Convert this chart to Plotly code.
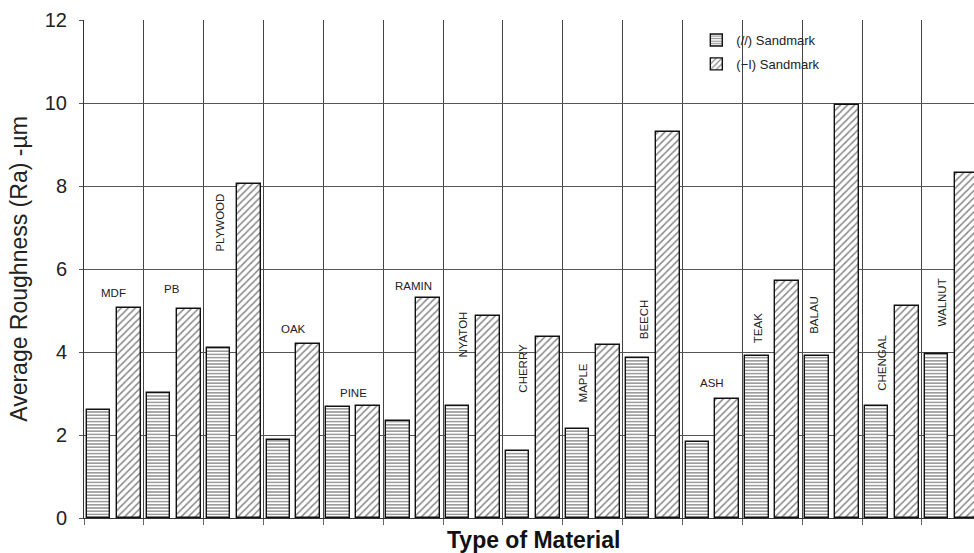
import plotly.graph_objects as go

materials = ["MDF", "PB", "PLYWOOD", "OAK", "PINE", "RAMIN", "NYATOH", "CHERRY",
             "MAPLE", "BEECH", "ASH", "TEAK", "BALAU", "CHENGAL", "WALNUT"]
parallel = [2.61, 3.01, 4.10, 1.87, 2.68, 2.34, 2.71, 1.62, 2.15, 3.86, 1.82, 3.91, 3.90, 2.69, 3.96]
perpendicular = [5.06, 5.04, 8.05, 4.20, 2.71, 5.30, 4.87, 4.36, 4.18, 9.31, 2.86, 5.72, 9.94, 5.11, 8.32]
y_ticks = [0, 2, 4, 6, 8, 10, 12]

# label placement (layout only)
label_y = [5.43, 5.52, 7.11, 4.56, 3.02, 5.60, 4.42, 3.62, 3.26, 4.78, 3.26, 4.58, 4.90, 3.74, 5.19]
label_vertical = [False, False, True, False, False, False, True, True, True, True, False, True, True, True, True]
label_dx = [0, -2, -14, 0, 0, 0, -10, -10, -10, -9, 0, -14, -19, -10, -10]

fig = go.Figure()
fig.add_trace(go.Bar(
    x=materials, y=parallel, name="(//) Sandmark", legendgroup="a",
    width=0.39, offset=-0.45,
    marker=dict(color="white", line=dict(color="#111", width=1.4),
                pattern=dict(shape="-", size=3.2, solidity=0.45, fgcolor="#222", bgcolor="white")),
))
fig.add_trace(go.Bar(
    x=materials, y=perpendicular, name="(−I) Sandmark", legendgroup="b",
    width=0.40, offset=0.05,
    marker=dict(color="white", line=dict(color="#111", width=1.4),
                pattern=dict(shape="/", size=5, solidity=0.3, fgcolor="#111", bgcolor="white")),
))

for m, ly, vert, dx in zip(materials, label_y, label_vertical, label_dx):
    fig.add_annotation(x=m, y=ly, text=m, showarrow=False, textangle=-90 if vert else 0,
                       xshift=dx, font=dict(family="Liberation Sans, Arial", size=11.5, color="#222"))

fig.add_annotation(xref="paper", yref="paper", x=(533 - 84) / 890, y=(518.5 - 541) / 498.5,
                   yanchor="middle", text="<b>Type of Material</b>", showarrow=False,
                   font=dict(family="Liberation Sans, Arial", size=23, color="#111"))

fig.update_layout(
    width=974, height=553,
    margin=dict(l=84, r=0, t=20, b=35, autoexpand=False),
    paper_bgcolor="white", plot_bgcolor="white",
    bargap=0, showlegend=True,
    legend=dict(x=0.688, y=0.99, xanchor="left", yanchor="top", bgcolor="rgba(255,255,255,0)",
                font=dict(family="Liberation Sans, Arial", size=13, color="#222"),
                tracegroupgap=4, itemwidth=30),
    xaxis=dict(type="category", range=[-0.5, 14.37], tickson="boundaries",
               showticklabels=False, showgrid=True, gridcolor="#444", gridwidth=1,
               ticks="outside", ticklen=6, tickcolor="#666", automargin=False,
               showline=True, linecolor="#333", linewidth=1, zeroline=False),
    yaxis=dict(range=[0, 12], tickvals=y_ticks, showgrid=True, gridcolor="#555", gridwidth=1,
               ticks="outside", ticklen=4, tickcolor="#555", automargin=False,
               ticklabelstandoff=8,
               showline=True, linecolor="#333", linewidth=1, zeroline=False,
               tickfont=dict(family="Liberation Sans, Arial", size=20, color="#222"),
               title=dict(text="Average Roughness (Ra) -µm", standoff=10,
                          font=dict(family="Liberation Sans, Arial", size=23, color="#222"))),
)

fig.write_html("out.html", config={"displayModeBar": False},
               post_script="document.body.style.margin='0';")
